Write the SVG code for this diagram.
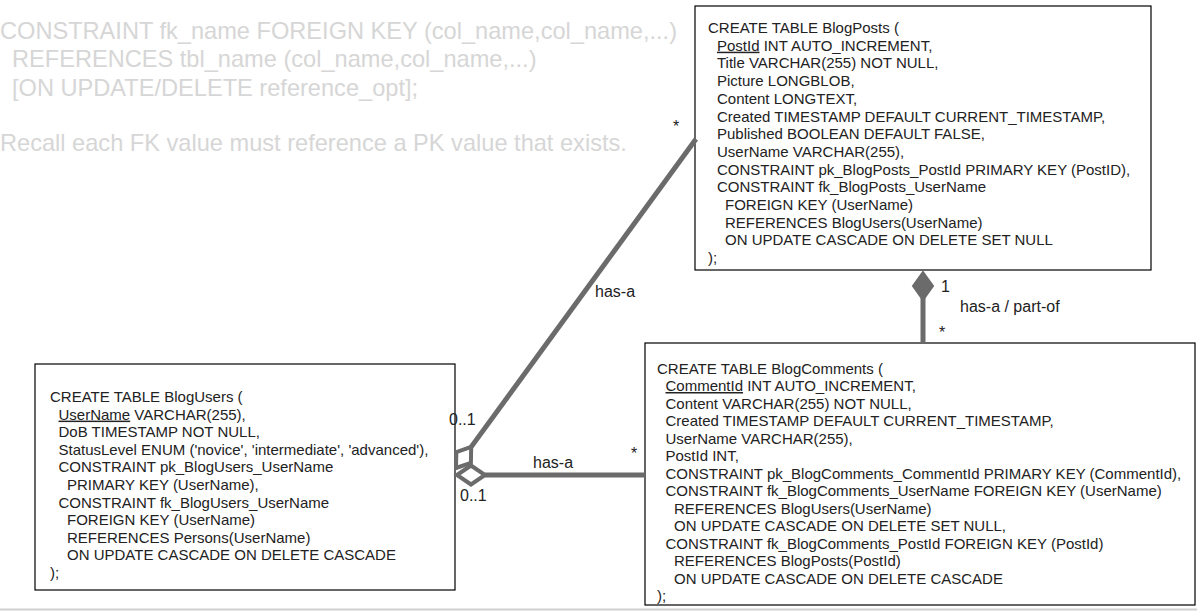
<svg xmlns="http://www.w3.org/2000/svg" width="1197" height="611" viewBox="0 0 1197 611">
<style>
.box{fill:#fff;stroke:#000;stroke-width:1.2}
.t{font-family:"Liberation Sans",Arial,sans-serif;font-size:15px;fill:#222}
.note{font-family:"Liberation Sans",Arial,sans-serif;font-size:23.6px;fill:#d6d6d6}
.lbl{font-family:"Liberation Sans",Arial,sans-serif;font-size:16px;fill:#222}
.con{stroke:#6b6b6b;stroke-width:5;fill:none}
.dia{stroke:#6b6b6b;stroke-width:4;fill:#fff;stroke-linejoin:miter}
.fdia{stroke:#6b6b6b;stroke-width:2;fill:#6b6b6b}
.u{text-decoration:underline}
</style>
<rect width="1197" height="611" fill="#fff"/>
<g id="note">
<text class="note" x="0" y="39">CONSTRAINT fk_name FOREIGN KEY (col_name,col_name,...)</text>
<text class="note" x="12" y="67">REFERENCES tbl_name (col_name,col_name,...)</text>
<text class="note" x="12" y="96">[ON UPDATE/DELETE reference_opt];</text>
<text class="note" x="0" y="151">Recall each FK value must reference a PK value that exists.</text>
</g>
<g id="BlogPosts">
<rect class="box" x="695" y="6" width="456" height="264"/>
<text class="t" x="708" y="33">CREATE TABLE BlogPosts (</text>
<text class="t" x="717" y="50.7"><tspan class="u">PostId</tspan> INT AUTO_INCREMENT,</text>
<text class="t" x="717" y="68.4">Title VARCHAR(255) NOT NULL,</text>
<text class="t" x="717" y="86.1">Picture LONGBLOB,</text>
<text class="t" x="717" y="103.8">Content LONGTEXT,</text>
<text class="t" x="717" y="121.5">Created TIMESTAMP DEFAULT CURRENT_TIMESTAMP,</text>
<text class="t" x="717" y="139.2">Published BOOLEAN DEFAULT FALSE,</text>
<text class="t" x="717" y="156.9">UserName VARCHAR(255),</text>
<text class="t" x="717" y="174.6">CONSTRAINT pk_BlogPosts_PostId PRIMARY KEY (PostID),</text>
<text class="t" x="717" y="192.3">CONSTRAINT fk_BlogPosts_UserName</text>
<text class="t" x="725" y="210">FOREIGN KEY (UserName)</text>
<text class="t" x="725" y="227.7">REFERENCES BlogUsers(UserName)</text>
<text class="t" x="725" y="245.4">ON UPDATE CASCADE ON DELETE SET NULL</text>
<text class="t" x="708" y="263.1">);</text>
</g>
<g id="BlogUsers">
<rect class="box" x="35" y="364" width="420" height="226"/>
<text class="t" x="50" y="402">CREATE TABLE BlogUsers (</text>
<text class="t" x="58.5" y="419.6"><tspan class="u">UserName</tspan> VARCHAR(255),</text>
<text class="t" x="58.5" y="437.2">DoB TIMESTAMP NOT NULL,</text>
<text class="t" x="58.5" y="454.8">StatusLevel ENUM ('novice', 'intermediate', 'advanced'),</text>
<text class="t" x="58.5" y="472.4">CONSTRAINT pk_BlogUsers_UserName</text>
<text class="t" x="67" y="490">PRIMARY KEY (UserName),</text>
<text class="t" x="58.5" y="507.6">CONSTRAINT fk_BlogUsers_UserName</text>
<text class="t" x="67" y="525.2">FOREIGN KEY (UserName)</text>
<text class="t" x="67" y="542.8">REFERENCES Persons(UserName)</text>
<text class="t" x="67" y="560.4">ON UPDATE CASCADE ON DELETE CASCADE</text>
<text class="t" x="50" y="578">);</text>
</g>
<g id="BlogComments">
<rect class="box" x="645" y="343" width="550" height="262"/>
<text class="t" x="657" y="373.5">CREATE TABLE BlogComments (</text>
<text class="t" x="665.5" y="391"><tspan class="u">CommentId</tspan> INT AUTO_INCREMENT,</text>
<text class="t" x="665.5" y="408.5">Content VARCHAR(255) NOT NULL,</text>
<text class="t" x="665.5" y="426">Created TIMESTAMP DEFAULT CURRENT_TIMESTAMP,</text>
<text class="t" x="665.5" y="443.5">UserName VARCHAR(255),</text>
<text class="t" x="665.5" y="461">PostId INT,</text>
<text class="t" x="665.5" y="478.5">CONSTRAINT pk_BlogComments_CommentId PRIMARY KEY (CommentId),</text>
<text class="t" x="665.5" y="496">CONSTRAINT fk_BlogComments_UserName FOREIGN KEY (UserName)</text>
<text class="t" x="674" y="513.5">REFERENCES BlogUsers(UserName)</text>
<text class="t" x="674" y="531">ON UPDATE CASCADE ON DELETE SET NULL,</text>
<text class="t" x="665.5" y="548.5">CONSTRAINT fk_BlogComments_PostId FOREIGN KEY (PostId)</text>
<text class="t" x="674" y="566">REFERENCES BlogPosts(PostId)</text>
<text class="t" x="674" y="583.5">ON UPDATE CASCADE ON DELETE CASCADE</text>
<text class="t" x="657" y="601">);</text>
</g>
<g id="connectors">
<line class="con" x1="471.2" y1="446.9" x2="696" y2="139"/>
<polygon class="dia" points="456,468 470.9,462.8 471.2,446.9 456.3,452.2"/>
<line class="con" x1="485" y1="475" x2="645" y2="475"/>
<polygon class="dia" points="457,475 471,465.5 485,475 471,484.5"/>
<line class="con" x1="923" y1="298" x2="923" y2="343"/>
<polygon class="fdia" points="923,272 933,286 923,300 913,286"/>
<text class="lbl" x="673" y="132">*</text>
<text class="lbl" x="595" y="297">has-a</text>
<text class="lbl" x="449" y="425">0..1</text>
<text class="lbl" x="460" y="501">0..1</text>
<text class="lbl" x="533" y="468">has-a</text>
<text class="lbl" x="631" y="459">*</text>
<text class="lbl" x="941" y="292">1</text>
<text class="lbl" x="960" y="312">has-a / part-of</text>
<text class="lbl" x="939" y="338">*</text>
</g>
<line x1="0" y1="609.5" x2="1197" y2="609.5" stroke="#d0d0d0" stroke-width="2"/>
</svg>
